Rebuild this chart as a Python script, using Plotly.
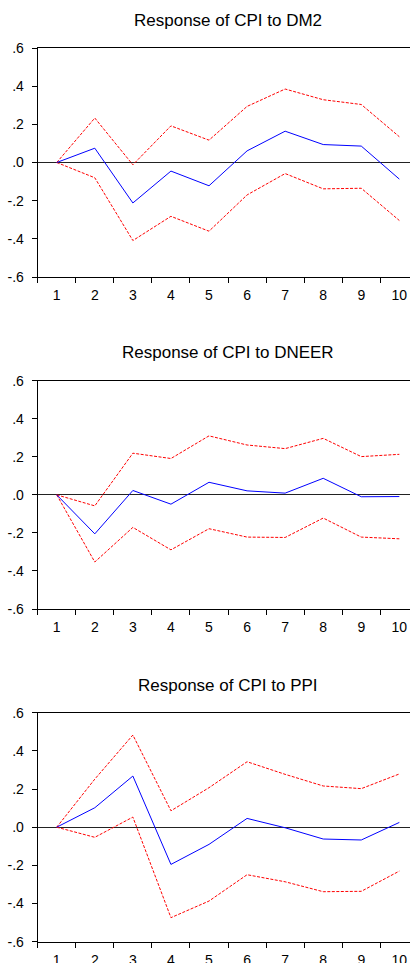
import plotly.graph_objects as go

periods = ["1", "2", "3", "4", "5", "6", "7", "8", "9", "10"]

titles = ["Response of CPI to DM2", "Response of CPI to DNEER", "Response of CPI to PPI"]

dm2_resp = [0, 0.075, -0.212, -0.045, -0.122, 0.061, 0.164, 0.094, 0.086, -0.087]
dm2_upper = [0, 0.233, -0.012, 0.192, 0.117, 0.294, 0.385, 0.329, 0.304, 0.135]
dm2_lower = [0, -0.080, -0.409, -0.282, -0.360, -0.170, -0.058, -0.138, -0.135, -0.304]

dneer_resp = [0, -0.205, 0.023, -0.049, 0.066, 0.021, 0.009, 0.087, -0.010, -0.009]
dneer_upper = [0, -0.058, 0.219, 0.191, 0.310, 0.262, 0.243, 0.297, 0.201, 0.213]
dneer_lower = [0, -0.353, -0.171, -0.289, -0.178, -0.222, -0.224, -0.122, -0.222, -0.231]

ppi_resp = [0, 0.102, 0.268, -0.195, -0.090, 0.046, -0.003, -0.062, -0.067, 0.025]
ppi_upper = [0, 0.252, 0.483, 0.086, 0.207, 0.343, 0.277, 0.216, 0.202, 0.279]
ppi_lower = [0, -0.053, 0.053, -0.474, -0.387, -0.249, -0.286, -0.338, -0.336, -0.230]

y_tickvals = [0.6, 0.4, 0.2, 0.0, -0.2, -0.4, -0.6]
y_ticktext = [".6", ".4", ".2", ".0", "-.2", "-.4", "-.6"]

panels = [
    (dm2_resp, dm2_upper, dm2_lower),
    (dneer_resp, dneer_upper, dneer_lower),
    (ppi_resp, ppi_upper, ppi_lower),
]

W, H = 410, 963
# pixel layout (top, bottom) of each plot area and title centre
plot_px = [(48, 277), (380.7, 609), (712.7, 941.7)]
title_px = [20, 352.7, 685]
x_left_px = 37.7
x_right_px = 410

fig = go.Figure()
font = "Liberation Sans, Arial, sans-serif"

for i, (resp, up, lo) in enumerate(panels):
    n = "" if i == 0 else str(i + 1)
    xa = "x" + n
    ya = "y" + n
    for vals, color, dash in [(up, "#ff0000", "3px,1.5px"), (lo, "#ff0000", "3px,1.5px"), (resp, "#0000ff", "solid")]:
        fig.add_trace(go.Scatter(x=periods, y=vals, mode="lines",
                                 line=dict(color=color, width=1, dash=dash),
                                 xaxis=xa, yaxis=ya, showlegend=False, hoverinfo="skip"))
    top, bot = plot_px[i]
    fig.layout["xaxis" + n] = dict(
        domain=[x_left_px / W, x_right_px / W],
        anchor=ya,
        type="category",
        range=[-0.5, 9.28],
        tickson="boundaries",
        ticks="outside", ticklen=5, tickcolor="#000",
        ticklabelstandoff=5,
        showline=True, linecolor="#000", linewidth=1, mirror=True,
        showgrid=False, zeroline=False,
        tickfont=dict(family=font, size=14, color="#000"),
        automargin=False,
    )
    fig.layout["yaxis" + n] = dict(
        domain=[1 - bot / H, 1 - top / H],
        anchor=xa,
        range=[-0.6, 0.6],
        tickvals=y_tickvals, ticktext=y_ticktext,
        ticks="outside", ticklen=5, tickcolor="#000",
        ticklabelstandoff=5,
        showline=True, linecolor="#000", linewidth=1, mirror=False,
        showgrid=False,
        zeroline=True, zerolinecolor="#222", zerolinewidth=1,
        tickfont=dict(family=font, size=14, color="#000"),
        automargin=False,
    )
    fig.add_annotation(text=titles[i], xref="paper", yref="paper",
                       x=228 / W, y=1 - title_px[i] / H, xanchor="center", yanchor="middle",
                       showarrow=False, font=dict(family=font, size=17, color="#000"))

fig.update_layout(width=W, height=H, margin=dict(l=0, r=0, t=0, b=0),
                  plot_bgcolor="white", paper_bgcolor="white")

fig.write_html("out.html", config={"displayModeBar": False},
               post_script="document.body.style.margin='0px';")
